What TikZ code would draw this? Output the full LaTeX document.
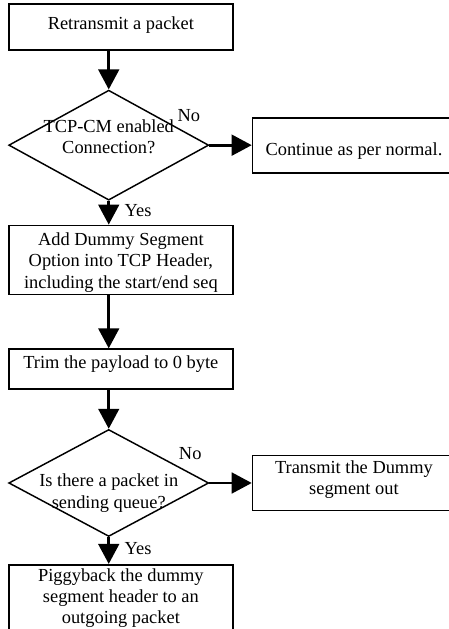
\documentclass[tikz,border=0pt]{standalone}
\usepackage{fontspec}
\setmainfont{Liberation Serif}
\usetikzlibrary{matrix,positioning,shapes.geometric,arrows.meta}
\newcommand{\Txt}[3]{\raisebox{0pt}[\dimexpr\height+#1\relax][\dimexpr\depth+#2\relax]{\begin{tabular}{@{}c@{}}#3\end{tabular}}}

\tikzset{
  every node/.style={font=\fontsize{13.8}{16}\selectfont},
  stepbox/.style={draw, line width=1.3pt, inner sep=1pt, minimum width=168pt},
  sidebox/.style={draw, line width=1.3pt, inner sep=1pt, minimum width=152pt, minimum height=41.25pt},
  decide/.style={draw, line width=1.1pt, diamond, aspect=1.8, inner sep=-12pt, minimum width=150pt},
  flow/.style={line width=2pt, -{Triangle[width=15.5pt,length=15pt]}},
  tag/.style={inner sep=0pt}
}

\begin{document}
\begin{tikzpicture}
\useasboundingbox (0,0) rectangle (336.75pt,-471.75pt);
\clip (0,0) rectangle (336.75pt,-471.75pt);
\matrix (m) [matrix of nodes,ampersand replacement=\&,row sep=0pt,column sep=13.5pt,
  nodes={anchor=west},matrix anchor=m-1-1.north west] at (6pt,-2.25pt)
{ |[stepbox,minimum height=34.5pt]| \Txt{0pt}{3pt}{Retransmit a packet} \& \\[29.25pt]
  |[decide,minimum height=82.5pt]| \Txt{0pt}{10pt}{TCP-CM enabled\\Connection?}
    \& |[sidebox]| \Txt{9pt}{0pt}{Continue as per normal.} \\[18pt]
  |[stepbox,minimum height=51.75pt]| \Txt{0pt}{-4pt}{Add Dummy Segment\\Option into TCP Header,\\including the start/end seq} \& \\[39.75pt]
  |[stepbox,minimum height=30pt]| \Txt{0pt}{7.5pt}{Trim the payload to 0 byte} \& \\[29.25pt]
  |[decide,minimum height=80.25pt]| \Txt{15.5pt}{0pt}{Is there a packet in\\sending queue?}
    \& |[sidebox]| \Txt{0pt}{5pt}{Transmit the Dummy\\segment out} \\[20.25pt]
  |[stepbox,minimum height=56pt]| \Txt{0pt}{26pt}{Piggyback the dummy\\segment header to an\\outgoing packet} \& \\
} ;
\path [flow]

(m-1-1.south -| m-2-1)
edge
(m-2-1)

(m-2-1)
edge
node [tag, pos=0, above left=16.5pt and 6pt] {No}
(m-2-2)

(m-2-1)
edge
node [tag, pos=0.4, right=11pt] {Yes}
(m-3-1.north -| m-2-1)

(m-3-1.south -| m-2-1)
edge
(m-4-1.north -| m-2-1)

(m-4-1.south -| m-5-1)
edge
(m-5-1)

(m-5-1)
edge
node [tag, pos=0, above left=16.5pt and 5pt] {No}
(m-5-2)

(m-5-1)
edge
node [tag, pos=0.43, right=11pt] {Yes}
(m-6-1.north -| m-5-1)

;
\end{tikzpicture}
\end{document}
